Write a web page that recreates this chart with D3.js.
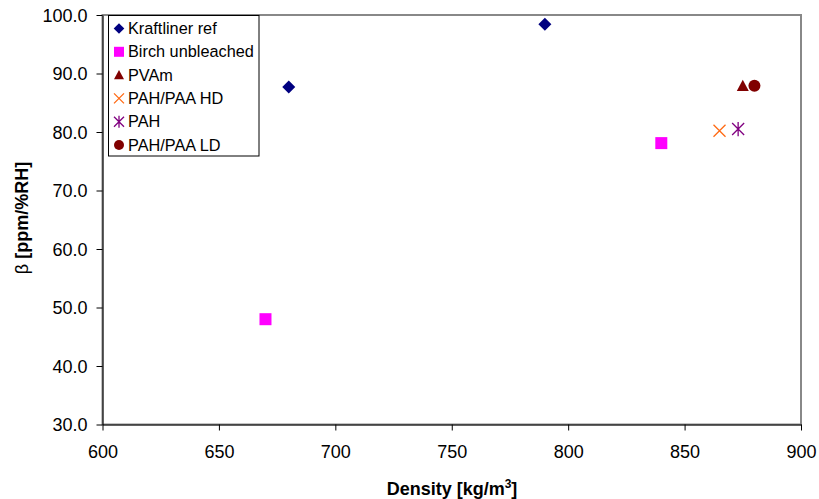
<!DOCTYPE html>
<html><head><meta charset="utf-8">
<script src="https://cdn.jsdelivr.net/npm/d3@7"></script>
<style>body{margin:0;background:#fff}svg text{font-family:"Liberation Sans",Arial,sans-serif}</style>
</head><body><svg id="c" width="819" height="499"></svg>
<script>
const seriesNames = ["Kraftliner ref","Birch unbleached","PVAm","PAH/PAA HD","PAH","PAH/PAA LD"];
const kraftliner = [[680,87.7],[790,98.4]];
const birch = [[670,48.0],[840,78.1]];
const pvam = [[875,87.9]];
const pahpaaHD = [[865,80.2]];
const pah = [[873,80.5]];
const pahpaaLD = [[880,87.9]];
const xTicks = [600,650,700,750,800,850,900];
const yTicks = [30,40,50,60,70,80,90,100];

const series = [
  {name:seriesNames[0], data:kraftliner, shape:"diamond", color:"#000080"},
  {name:seriesNames[1], data:birch, shape:"square", color:"#FF00FF"},
  {name:seriesNames[2], data:pvam, shape:"triangle", color:"#800000"},
  {name:seriesNames[3], data:pahpaaHD, shape:"x", color:"#FF6A13"},
  {name:seriesNames[4], data:pah, shape:"star", color:"#800080"},
  {name:seriesNames[5], data:pahpaaLD, shape:"circle", color:"#800000"}
];

const svg = d3.select("#c");
const L=102.5, R=801, T=15, B=424.5;
const x = d3.scaleLinear().domain([600,900]).range([L,R]);
const y = d3.scaleLinear().domain([30,100]).range([B,T]);

svg.append("rect").attr("x",L).attr("y",T).attr("width",R-L).attr("height",B-T)
  .attr("fill","none").attr("stroke","#888").attr("stroke-width",2);

const xa = svg.append("g").attr("transform",`translate(0,${B})`)
  .call(d3.axisBottom(x).tickValues(xTicks).tickFormat(d3.format("d")).tickSizeInner(6).tickSizeOuter(0));
const ya = svg.append("g").attr("transform",`translate(${L},0)`)
  .call(d3.axisLeft(y).tickValues(yTicks).tickFormat(d3.format(".1f")).tickSizeInner(6).tickSizeOuter(0));
[xa,ya].forEach(a=>{a.selectAll("path,line").attr("stroke","#000");a.selectAll("text").attr("font-size",18).attr("fill","#000").style("font-family","Liberation Sans, Arial, sans-serif");});
xa.selectAll(".tick text").attr("y",33).attr("dy",null);
ya.selectAll(".tick text").attr("x",-15).attr("dy","0.35em");

function marker(g, shape, color, s){
  if(shape==="diamond") g.append("path").attr("d",`M0,${-s}L${s},0L0,${s}L${-s},0Z`).attr("fill",color);
  else if(shape==="square") g.append("rect").attr("x",-s).attr("y",-s).attr("width",s*2).attr("height",s*2).attr("fill",color);
  else if(shape==="triangle") g.append("path").attr("d",`M0,${-s}L${s},${s*0.85}L${-s},${s*0.85}Z`).attr("fill",color);
  else if(shape==="circle") g.append("circle").attr("r",s).attr("fill",color);
  else if(shape==="x") g.append("path").attr("d",`M${-s},${-s}L${s},${s}M${-s},${s}L${s},${-s}`).attr("stroke",color).attr("stroke-width",1.3).attr("fill","none");
  else if(shape==="star") g.append("path").attr("d",`M${-s},${-s}L${s},${s}M${-s},${s}L${s},${-s}M0,${-s*1.2}L0,${s*1.2}`).attr("stroke",color).attr("stroke-width",1.3).attr("fill","none");
}

series.forEach(sr=>{
  sr.data.forEach(d=>{
    const g = svg.append("g").attr("transform",`translate(${x(d[0])},${y(d[1])})`);
    marker(g, sr.shape, sr.color, sr.shape==="diamond"?6.5:6);
  });
});

// legend
const lg = svg.append("g");
lg.append("rect").attr("x",108.5).attr("y",15.5).attr("width",150.5).attr("height",140.5).attr("fill","#fff").attr("stroke","#000");
series.forEach((sr,i)=>{
  const base = 34 + i*23.3;
  const g = lg.append("g").attr("transform",`translate(119,${base-5.5})`);
  marker(g, sr.shape, sr.color, sr.shape==="diamond"?5.3:5);
  lg.append("text").attr("x",128).attr("y",base).attr("font-size",16.3).text(sr.name);
});

svg.append("text").attr("x",452).attr("y",495).attr("text-anchor","middle").attr("font-size",18).attr("font-weight","bold")
  .html('Density [kg/m<tspan dy="-7" font-size="12">3</tspan><tspan dy="7">]</tspan>');
svg.append("text").attr("transform","translate(28,218) rotate(-90)").attr("text-anchor","middle").attr("font-size",18)
  .html('β <tspan font-weight="bold">[ppm/%RH]</tspan>');
</script></body></html>
